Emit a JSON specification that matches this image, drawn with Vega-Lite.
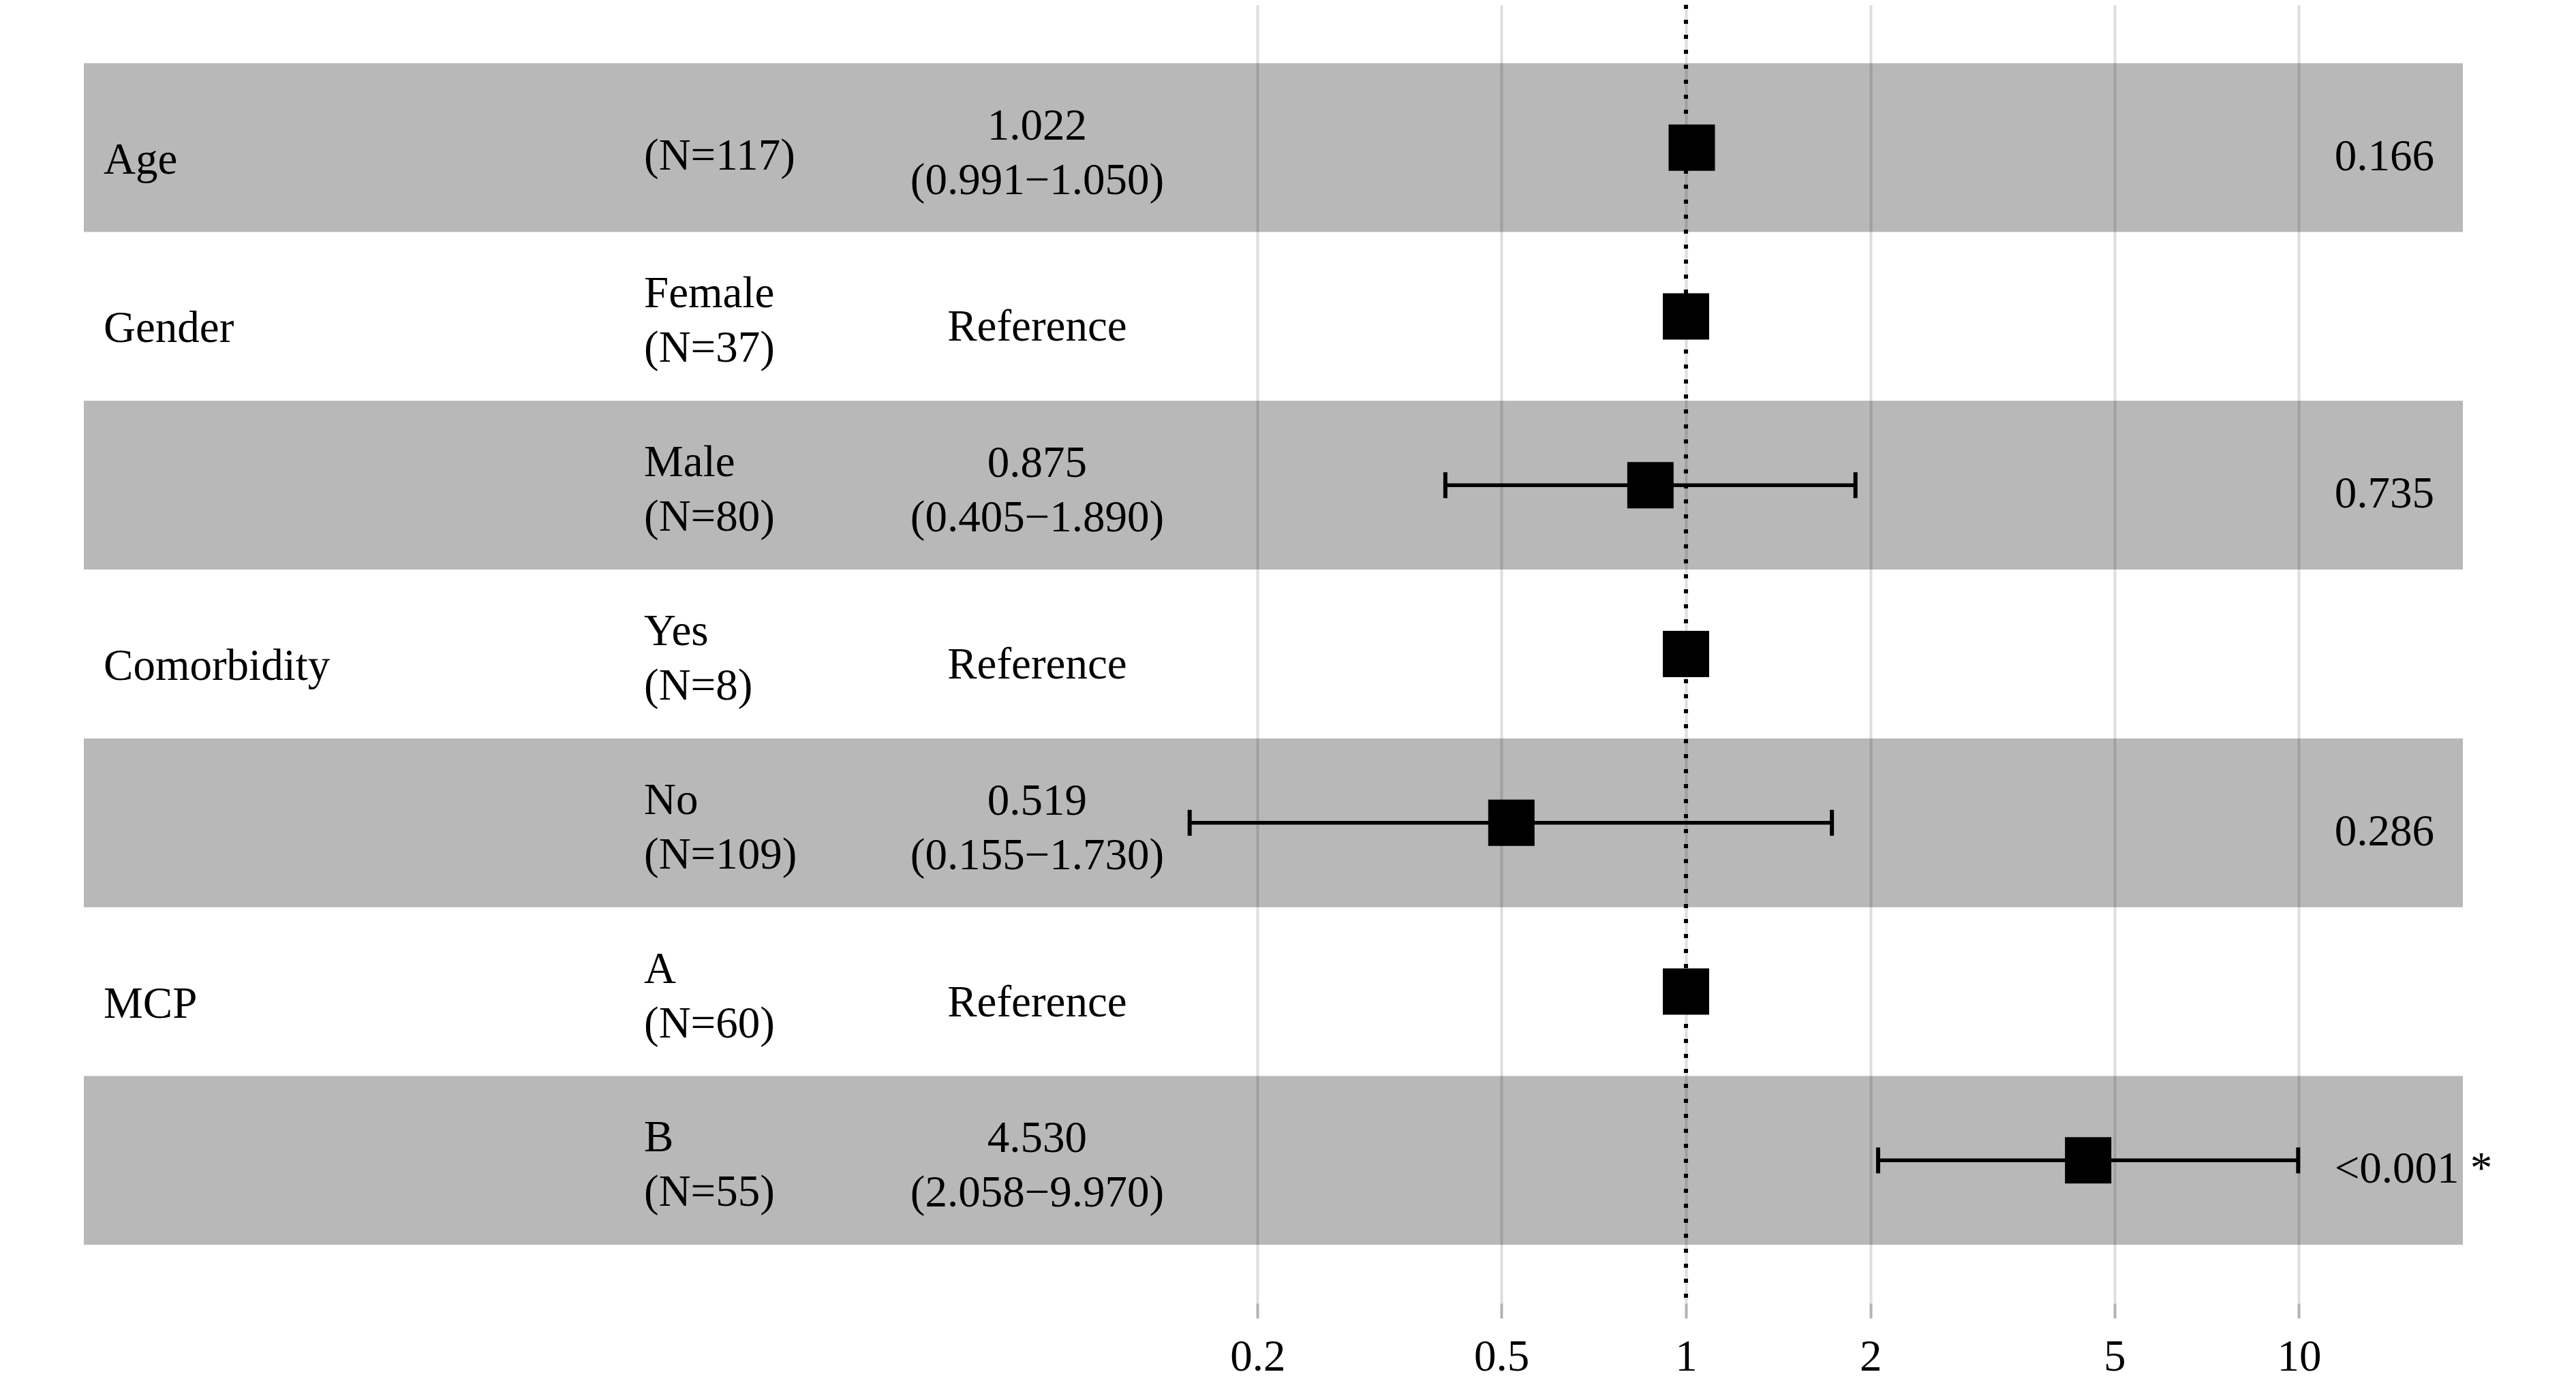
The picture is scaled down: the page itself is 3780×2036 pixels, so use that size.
{
  "$schema": "https://vega.github.io/schema/vega-lite/v6.json",
  "width": 3780,
  "height": 1906,
  "autosize": {"type": "none"},
  "padding": {"left": 0, "right": 0, "top": 7, "bottom": 123},
  "background": "white",
  "config": {
    "view": {"stroke": null},
    "text": {"font": "Liberation Serif", "fontSize": 65, "color": "black"}
  },
  "data": {
    "values": [
      {"row": 1, "var": "Age", "level": "(N=117)", "est": "1.022\n(0.991−1.050)", "p": "0.166", "hr": 1.022, "lo": 0.991, "hi": 1.05},
      {"row": 2, "var": "Gender", "level": "Female\n(N=37)", "est": "Reference", "p": "", "hr": 1, "lo": null, "hi": null},
      {"row": 3, "var": "", "level": "Male\n(N=80)", "est": "0.875\n(0.405−1.890)", "p": "0.735", "hr": 0.875, "lo": 0.405, "hi": 1.89},
      {"row": 4, "var": "Comorbidity", "level": "Yes\n(N=8)", "est": "Reference", "p": "", "hr": 1, "lo": null, "hi": null},
      {"row": 5, "var": "", "level": "No\n(N=109)", "est": "0.519\n(0.155−1.730)", "p": "0.286", "hr": 0.519, "lo": 0.155, "hi": 1.73},
      {"row": 6, "var": "MCP", "level": "A\n(N=60)", "est": "Reference", "p": "", "hr": 1, "lo": null, "hi": null},
      {"row": 7, "var": "", "level": "B\n(N=55)", "est": "4.530\n(2.058−9.970)", "p": "<0.001 *", "hr": 4.53, "lo": 2.058, "hi": 9.97}
    ]
  },
  "encoding": {
    "y": {"field": "row", "type": "ordinal", "sort": "ascending", "axis": null,
          "scale": {"paddingInner": 0, "paddingOuter": 0.346}}
  },
  "layer": [
    {
      "transform": [{"filter": "datum.row % 2 == 1"}],
      "mark": {"type": "rect", "color": "black", "opacity": 0.28},
      "encoding": {
        "x": {"datum": 0.002434, "type": "quantitative",
              "scale": {"type": "log", "domain": [0.0017766, 28.309], "nice": false},
              "axis": {"values": [0.2, 0.5, 1, 2, 5, 10], "format": "~g", "title": null,
                       "grid": true, "gridColor": "#dedede", "gridWidth": 4,
                       "domain": false, "ticks": true, "tickColor": "#b3b3b3", "tickWidth": 4, "tickSize": 22,
                       "labelFont": "Liberation Serif", "labelFontSize": 65, "labelColor": "black",
                       "labelPadding": 25, "labelFlush": false, "labelOverlap": false}},
        "x2": {"datum": 18.51}
      }
    },
    {
      "transform": [{"filter": "datum.lo != null"}],
      "mark": {"type": "rule", "color": "black", "strokeWidth": 5.5},
      "encoding": {
        "x": {"field": "lo", "type": "quantitative"},
        "x2": {"field": "hi"}
      }
    },
    {
      "transform": [{"filter": "datum.lo != null"}],
      "mark": {"type": "tick", "orient": "vertical", "color": "black", "size": 38, "thickness": 6, "opacity": 1},
      "encoding": {"x": {"field": "lo", "type": "quantitative"}}
    },
    {
      "transform": [{"filter": "datum.hi != null"}],
      "mark": {"type": "tick", "orient": "vertical", "color": "black", "size": 38, "thickness": 6, "opacity": 1},
      "encoding": {"x": {"field": "hi", "type": "quantitative"}}
    },
    {
      "mark": {"type": "point", "shape": "square", "filled": true, "color": "black", "size": 4624, "opacity": 1},
      "encoding": {"x": {"field": "hr", "type": "quantitative"}}
    },
    {
      "mark": {"type": "rule", "color": "black", "strokeWidth": 6, "strokeDash": [6, 16]},
      "encoding": {"x": {"datum": 1, "type": "quantitative"}, "y": null}
    },
    {
      "mark": {"type": "text", "align": "left", "baseline": "middle", "dy": 18},
      "encoding": {"x": {"datum": 0.002622, "type": "quantitative"}, "text": {"field": "var"}}
    },
    {
      "transform": [{"filter": "indexof(datum.level, '\\n') < 0"}],
      "mark": {"type": "text", "align": "left", "baseline": "middle", "dy": 12},
      "encoding": {"x": {"datum": 0.01996, "type": "quantitative"}, "text": {"field": "level"}}
    },
    {
      "transform": [{"filter": "indexof(datum.level, '\\n') >= 0"}],
      "mark": {"type": "text", "align": "left", "baseline": "middle", "dy": -33, "lineBreak": "\n", "lineHeight": 80},
      "encoding": {"x": {"datum": 0.01996, "type": "quantitative"}, "text": {"field": "level"}}
    },
    {
      "transform": [{"filter": "indexof(datum.est, '\\n') < 0"}],
      "mark": {"type": "text", "align": "center", "baseline": "middle", "dy": 16},
      "encoding": {"x": {"datum": 0.08742, "type": "quantitative"}, "text": {"field": "est"}}
    },
    {
      "transform": [{"filter": "indexof(datum.est, '\\n') >= 0"}],
      "mark": {"type": "text", "align": "center", "baseline": "middle", "dy": -32, "lineBreak": "\n", "lineHeight": 80},
      "encoding": {"x": {"datum": 0.08742, "type": "quantitative"}, "text": {"field": "est"}}
    },
    {
      "mark": {"type": "text", "align": "left", "baseline": "middle", "dy": 13},
      "encoding": {"x": {"datum": 11.43, "type": "quantitative"}, "text": {"field": "p"}}
    }
  ]
}
